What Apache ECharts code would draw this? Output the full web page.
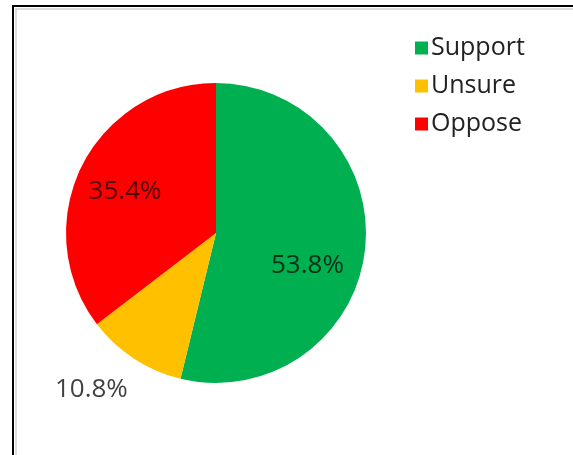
<!DOCTYPE html>
<html>
<head>
<meta charset="utf-8">
<script src="https://cdn.jsdelivr.net/npm/echarts@6/dist/echarts.min.js"></script>
<style>
html,body{margin:0;padding:0;background:#fff;}
#chart{width:573px;height:455px;}
</style>
</head>
<body>
<div id="chart"></div>
<script>
const categories = ['Support', 'Unsure', 'Oppose'];
const values = [53.8, 10.8, 35.4];
const colors = ['#00B050', '#FFC000', '#FF0000'];
const labelOffsets = [[14, 23], [-82, 91], [-21, -7]];
const labelColors = ['rgba(0,0,0,0.72)', 'rgba(0,0,0,0.75)', 'rgba(0,0,0,0.7)'];

const chart = echarts.init(document.getElementById('chart'));
const FONT = '"Open Sans", "Noto Sans", sans-serif';

chart.setOption({
  animation: false,
  backgroundColor: '#ffffff',
  legend: {
    orient: 'vertical',
    left: 410,
    top: 30,
    icon: 'rect',
    itemWidth: 13,
    itemHeight: 13,
    itemGap: 12,
    data: categories,
    textStyle: { fontFamily: FONT, fontSize: 25, lineHeight: 26, color: '#222', padding: [0, 0, 0, -2] }
  },
  graphic: [
    { type: 'line', shape: { x1: 12, y1: 6, x2: 573, y2: 6 }, style: { stroke: '#000', lineWidth: 2 } },
    { type: 'line', shape: { x1: 13, y1: 6, x2: 13, y2: 455 }, style: { stroke: '#000', lineWidth: 2 } },
    { type: 'line', shape: { x1: 15, y1: 9, x2: 573, y2: 9 }, style: { stroke: '#bbb', lineWidth: 1 } },
    { type: 'line', shape: { x1: 16, y1: 9, x2: 16, y2: 455 }, style: { stroke: '#bbb', lineWidth: 1 } }
  ],
  series: [{
    type: 'pie',
    center: [216, 233],
    radius: 150,
    startAngle: 90,
    clockwise: true,
    itemStyle: { borderWidth: 0 },
    labelLine: { show: false },
    emphasis: { disabled: true },
    data: categories.map((name, i) => ({
      name: name,
      value: values[i],
      itemStyle: { color: colors[i] },
      label: {
        show: true,
        position: 'inside',
        offset: labelOffsets[i],
        color: labelColors[i],
        fontFamily: FONT,
        fontSize: 26,
        formatter: values[i].toFixed(1) + '%'
      }
    }))
  }]
});
</script>
</body>
</html>
